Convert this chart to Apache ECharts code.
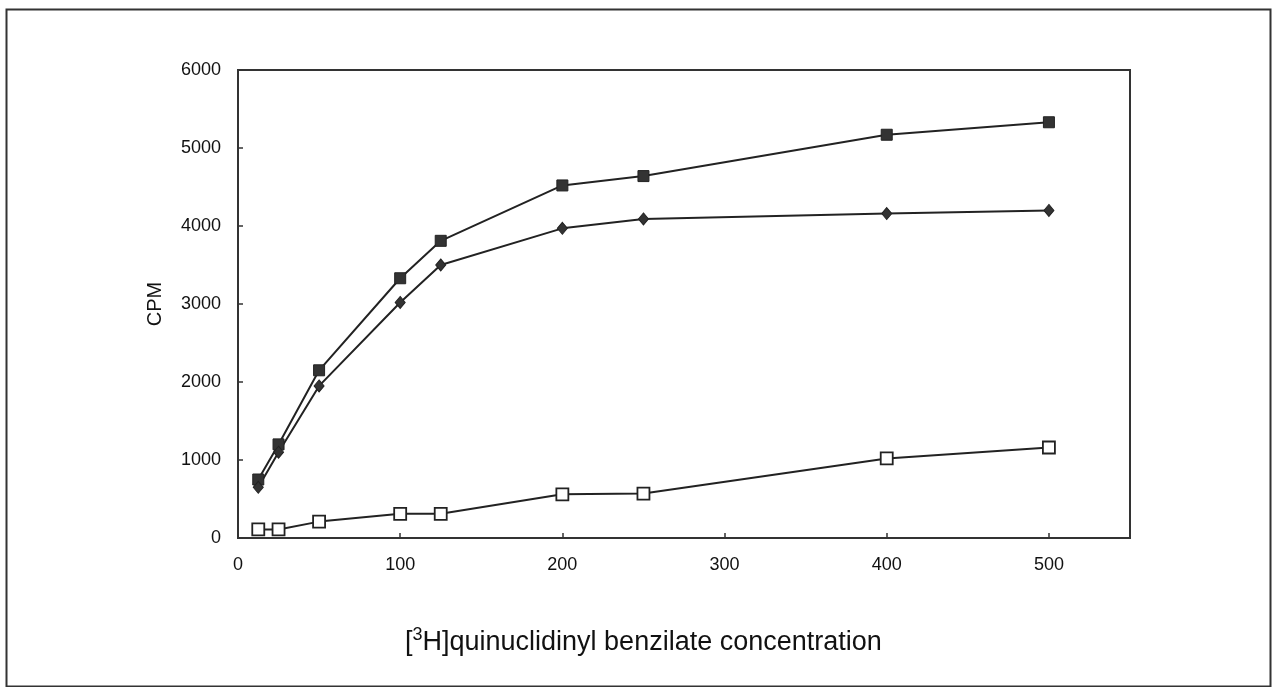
<!DOCTYPE html>
<html>
<head>
<meta charset="utf-8">
<script src="https://cdn.jsdelivr.net/npm/echarts@6/dist/echarts.min.js"></script>
<style>html,body{margin:0;padding:0;background:#fff}#c{width:1273px;height:687px}</style>
</head>
<body>
<div id="c"></div>
<script>
const concentrations = [12.5, 25, 50, 100, 125, 200, 250, 400, 500];
const totalBinding = [750, 1200, 2150, 3330, 3810, 4520, 4640, 5170, 5330];
const specificBinding = [650, 1100, 1950, 3020, 3500, 3970, 4090, 4160, 4200];
const nonspecificBinding = [110, 110, 210, 310, 310, 560, 570, 1020, 1160];

const pairs = (ys) => concentrations.map((x, i) => [x, ys[i]]);
const chart = echarts.init(document.getElementById('c'));
const lineStyle = { color: '#222', width: 2 };
chart.setOption({
  animation: false,
  backgroundColor: '#fff',
  graphic: [{
    type: 'rect', left: 4, top: 7, shape: { width: 1264, height: 677 },
    style: { fill: 'none', stroke: '#333', lineWidth: 2 }, silent: true
  }],
  title: {
    text: '{a|[}{s|3}{a|H]quinuclidinyl benzilate concentration}',
    left: 405, top: 626, padding: 0,
    textStyle: {
      fontWeight: 'normal',
      rich: {
        a: { fontFamily: 'Liberation Sans', fontWeight: 'normal', fontSize: 27, color: '#111', lineHeight: 34 },
        s: { fontFamily: 'Liberation Sans', fontWeight: 'normal', fontSize: 18, color: '#111', lineHeight: 32, verticalAlign: 'top' }
      }
    }
  },
  grid: { left: 238, top: 70, right: 143, bottom: 149, show: true, borderColor: '#333', borderWidth: 2, backgroundColor: 'transparent' },
  xAxis: {
    type: 'value', min: 0, max: 550, interval: 100,
    axisLine: { lineStyle: { color: '#333', width: 2 } },
    axisTick: { inside: true, length: 5, lineStyle: { color: '#333', width: 1.5 } },
    axisLabel: { showMaxLabel: false, color: '#111', fontFamily: 'Liberation Sans', fontSize: 18, margin: 18 },
    splitLine: { show: false }
  },
  yAxis: {
    type: 'value', min: 0, max: 6000, interval: 1000,
    axisLine: { show: true, lineStyle: { color: '#333', width: 2 } },
    axisTick: { show: true, inside: true, length: 5, lineStyle: { color: '#333', width: 1.5 } },
    axisLabel: { formatter: (v) => String(v), color: '#111', fontFamily: 'Liberation Sans', fontSize: 18, margin: 17 },
    splitLine: { show: false },
    name: 'CPM', nameLocation: 'middle', nameGap: 73, nameRotate: 90,
    nameTextStyle: { fontFamily: 'Liberation Sans', fontSize: 20, color: '#111' }
  },
  series: [
    { type: 'line', data: pairs(totalBinding), symbol: 'rect', symbolSize: 11,
      itemStyle: { color: '#333', borderColor: '#222', borderWidth: 1 }, lineStyle },
    { type: 'line', data: pairs(specificBinding), symbol: 'diamond', symbolSize: [10, 12],
      itemStyle: { color: '#333', borderColor: '#222', borderWidth: 1 }, lineStyle },
    { type: 'line', data: pairs(nonspecificBinding), symbol: 'rect', symbolSize: 12,
      itemStyle: { color: '#fff', borderColor: '#222', borderWidth: 1.8 }, lineStyle }
  ]
});
</script>
</body>
</html>
